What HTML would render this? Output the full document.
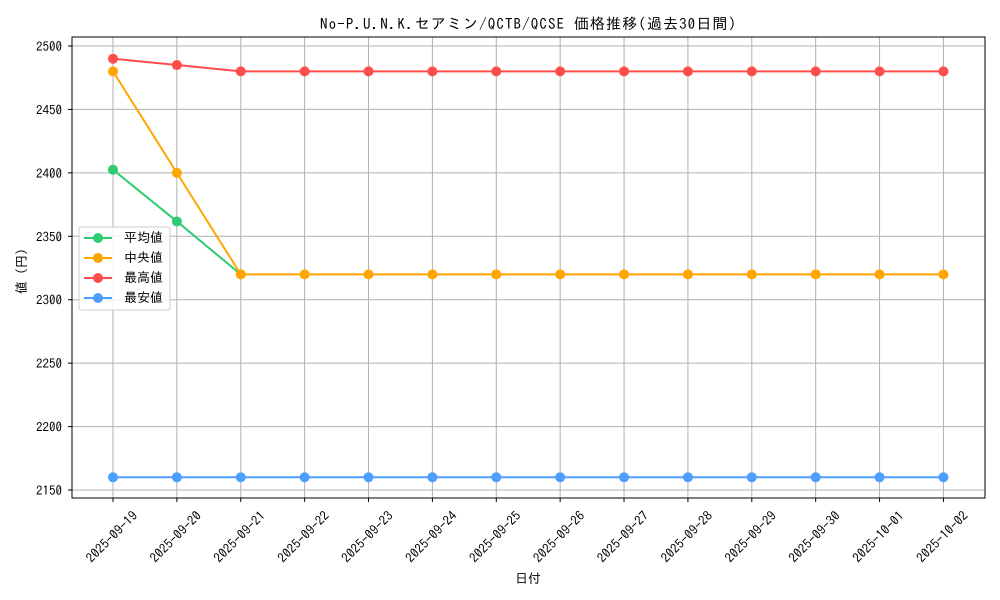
<!DOCTYPE html>
<html><head><meta charset="utf-8"><style>body{margin:0;background:#fff}svg{display:block}</style></head><body>
<svg width="1000" height="600" xmlns="http://www.w3.org/2000/svg" font-family="IPAGothic, Noto Sans CJK JP, sans-serif" font-size="13">
<rect width="1000" height="600" fill="#fff"/>
<g stroke="#b0b0b0" stroke-width="1">
<line x1="113" x2="113" y1="37" y2="498"/><line x1="176.88" x2="176.88" y1="37" y2="498"/><line x1="240.76" x2="240.76" y1="37" y2="498"/><line x1="304.64" x2="304.64" y1="37" y2="498"/><line x1="368.52" x2="368.52" y1="37" y2="498"/><line x1="432.4" x2="432.4" y1="37" y2="498"/><line x1="496.28" x2="496.28" y1="37" y2="498"/><line x1="560.16" x2="560.16" y1="37" y2="498"/><line x1="624.04" x2="624.04" y1="37" y2="498"/><line x1="687.92" x2="687.92" y1="37" y2="498"/><line x1="751.8" x2="751.8" y1="37" y2="498"/><line x1="815.68" x2="815.68" y1="37" y2="498"/><line x1="879.56" x2="879.56" y1="37" y2="498"/><line x1="943.44" x2="943.44" y1="37" y2="498"/>
<line x1="72" x2="985" y1="46" y2="46"/><line x1="72" x2="985" y1="109.43" y2="109.43"/><line x1="72" x2="985" y1="172.86" y2="172.86"/><line x1="72" x2="985" y1="236.29" y2="236.29"/><line x1="72" x2="985" y1="299.72" y2="299.72"/><line x1="72" x2="985" y1="363.15" y2="363.15"/><line x1="72" x2="985" y1="426.58" y2="426.58"/><line x1="72" x2="985" y1="490" y2="490"/>
</g>
<g fill="none" stroke-width="2">
<polyline stroke="#2ecc71" points="113,169.7 176.88,221.45 240.76,274.35"/>
<polyline stroke="#ffa500" points="113,71.37 176.88,172.86 240.76,274.35 943.44,274.35"/>
<polyline stroke="#ff4d4d" points="113,58.69 176.88,65.03 240.76,71.37 943.44,71.37"/>
<polyline stroke="#4d9eff" points="113,477.3 943.44,477.3"/>
</g>
<g fill="#2ecc71"><circle cx="113" cy="169.7" r="5"/><circle cx="176.88" cy="221.45" r="5"/></g>
<g fill="#ffa500"><circle cx="113" cy="71.37" r="5"/><circle cx="176.88" cy="172.86" r="5"/>
<circle cx="240.76" cy="274.35" r="5"/><circle cx="304.64" cy="274.35" r="5"/><circle cx="368.52" cy="274.35" r="5"/><circle cx="432.4" cy="274.35" r="5"/><circle cx="496.28" cy="274.35" r="5"/><circle cx="560.16" cy="274.35" r="5"/><circle cx="624.04" cy="274.35" r="5"/><circle cx="687.92" cy="274.35" r="5"/><circle cx="751.8" cy="274.35" r="5"/><circle cx="815.68" cy="274.35" r="5"/><circle cx="879.56" cy="274.35" r="5"/><circle cx="943.44" cy="274.35" r="5"/></g>
<g fill="#ff4d4d"><circle cx="113" cy="58.69" r="5"/><circle cx="176.88" cy="65.03" r="5"/>
<circle cx="240.76" cy="71.37" r="5"/><circle cx="304.64" cy="71.37" r="5"/><circle cx="368.52" cy="71.37" r="5"/><circle cx="432.4" cy="71.37" r="5"/><circle cx="496.28" cy="71.37" r="5"/><circle cx="560.16" cy="71.37" r="5"/><circle cx="624.04" cy="71.37" r="5"/><circle cx="687.92" cy="71.37" r="5"/><circle cx="751.8" cy="71.37" r="5"/><circle cx="815.68" cy="71.37" r="5"/><circle cx="879.56" cy="71.37" r="5"/><circle cx="943.44" cy="71.37" r="5"/></g>
<g fill="#4d9eff">
<circle cx="113" cy="477.3" r="5"/><circle cx="176.88" cy="477.3" r="5"/><circle cx="240.76" cy="477.3" r="5"/><circle cx="304.64" cy="477.3" r="5"/><circle cx="368.52" cy="477.3" r="5"/><circle cx="432.4" cy="477.3" r="5"/><circle cx="496.28" cy="477.3" r="5"/><circle cx="560.16" cy="477.3" r="5"/><circle cx="624.04" cy="477.3" r="5"/><circle cx="687.92" cy="477.3" r="5"/><circle cx="751.8" cy="477.3" r="5"/><circle cx="815.68" cy="477.3" r="5"/><circle cx="879.56" cy="477.3" r="5"/><circle cx="943.44" cy="477.3" r="5"/></g>
<rect x="72" y="37" width="913" height="461" fill="none" stroke="#000" stroke-width="1"/>
<g stroke="#000">
<line x1="113" x2="113" y1="498" y2="502"/><line x1="176.88" x2="176.88" y1="498" y2="502"/><line x1="240.76" x2="240.76" y1="498" y2="502"/><line x1="304.64" x2="304.64" y1="498" y2="502"/><line x1="368.52" x2="368.52" y1="498" y2="502"/><line x1="432.4" x2="432.4" y1="498" y2="502"/><line x1="496.28" x2="496.28" y1="498" y2="502"/><line x1="560.16" x2="560.16" y1="498" y2="502"/><line x1="624.04" x2="624.04" y1="498" y2="502"/><line x1="687.92" x2="687.92" y1="498" y2="502"/><line x1="751.8" x2="751.8" y1="498" y2="502"/><line x1="815.68" x2="815.68" y1="498" y2="502"/><line x1="879.56" x2="879.56" y1="498" y2="502"/><line x1="943.44" x2="943.44" y1="498" y2="502"/>
<line x1="68" x2="72" y1="46" y2="46"/><line x1="68" x2="72" y1="109.43" y2="109.43"/><line x1="68" x2="72" y1="172.86" y2="172.86"/><line x1="68" x2="72" y1="236.29" y2="236.29"/><line x1="68" x2="72" y1="299.72" y2="299.72"/><line x1="68" x2="72" y1="363.15" y2="363.15"/><line x1="68" x2="72" y1="426.58" y2="426.58"/><line x1="68" x2="72" y1="490" y2="490"/>
</g>
<g text-anchor="end">
<text x="62" y="51" textLength="26">2500</text><text x="62" y="114.4" textLength="26">2450</text><text x="62" y="177.9" textLength="26">2400</text><text x="62" y="241.3" textLength="26">2350</text><text x="62" y="304.7" textLength="26">2300</text><text x="62" y="368.2" textLength="26">2250</text><text x="62" y="431.6" textLength="26">2200</text><text x="62" y="495" textLength="26">2150</text>
</g>
<g text-anchor="middle">
<text transform="translate(115,540) rotate(-45)" textLength="66">2025-09-19</text>
<text transform="translate(178.88,540) rotate(-45)" textLength="66">2025-09-20</text>
<text transform="translate(242.76,540) rotate(-45)" textLength="66">2025-09-21</text>
<text transform="translate(306.64,540) rotate(-45)" textLength="66">2025-09-22</text>
<text transform="translate(370.52,540) rotate(-45)" textLength="66">2025-09-23</text>
<text transform="translate(434.4,540) rotate(-45)" textLength="66">2025-09-24</text>
<text transform="translate(498.28,540) rotate(-45)" textLength="66">2025-09-25</text>
<text transform="translate(562.16,540) rotate(-45)" textLength="66">2025-09-26</text>
<text transform="translate(626.04,540) rotate(-45)" textLength="66">2025-09-27</text>
<text transform="translate(689.92,540) rotate(-45)" textLength="66">2025-09-28</text>
<text transform="translate(753.8,540) rotate(-45)" textLength="66">2025-09-29</text>
<text transform="translate(817.68,540) rotate(-45)" textLength="66">2025-09-30</text>
<text transform="translate(881.56,540) rotate(-45)" textLength="66">2025-10-01</text>
<text transform="translate(945.44,540) rotate(-45)" textLength="66">2025-10-02</text>
</g>
<text x="528" y="29" text-anchor="middle" font-size="15" textLength="416">No-P.U.N.K.セアミン/QCTB/QCSE 価格推移(過去30日間)</text>
<text x="528" y="583" text-anchor="middle">日付</text>
<text transform="translate(26,268) rotate(-90)" text-anchor="middle">値（円）</text>
<g>
<rect x="79" y="227" width="91" height="83" fill="#fff" fill-opacity="0.85" stroke="#ccc" rx="2"/>
<line x1="84" y1="238" x2="112" y2="238" stroke="#2ecc71" stroke-width="2"/><circle cx="98" cy="238" r="5" fill="#2ecc71"/><text x="124" y="242">平均値</text>
<line x1="84" y1="258" x2="112" y2="258" stroke="#ffa500" stroke-width="2"/><circle cx="98" cy="258" r="5" fill="#ffa500"/><text x="124" y="262">中央値</text>
<line x1="84" y1="278" x2="112" y2="278" stroke="#ff4d4d" stroke-width="2"/><circle cx="98" cy="278" r="5" fill="#ff4d4d"/><text x="124" y="282">最高値</text>
<line x1="84" y1="298" x2="112" y2="298" stroke="#4d9eff" stroke-width="2"/><circle cx="98" cy="298" r="5" fill="#4d9eff"/><text x="124" y="302">最安値</text>
</g>
</svg>
</body></html>
